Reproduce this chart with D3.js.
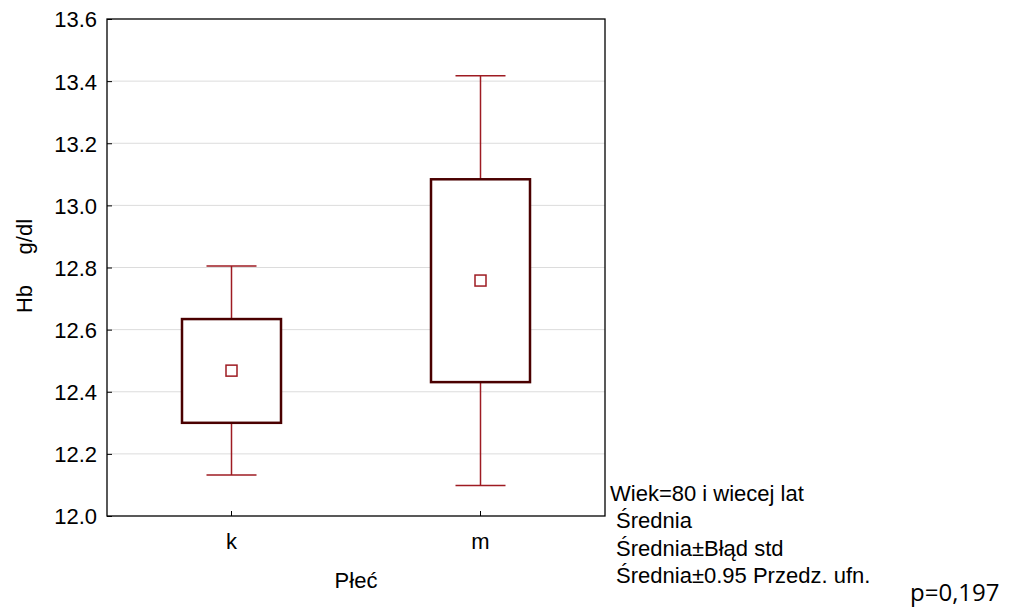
<!DOCTYPE html>
<html>
<head>
<meta charset="utf-8">
<script src="https://cdn.jsdelivr.net/npm/d3@7"></script>
<style>
  html, body { margin: 0; padding: 0; background: #fff; }
  svg { display: block; }
  text { font-family: "Liberation Sans", Arial, sans-serif; fill: #000; }
</style>
</head>
<body>
<svg id="chart" width="1021" height="612"></svg>
<script>
// Hb by sex, age group 80+: mean, ±standard error, ±0.95 confidence interval
const groups = ["k", "m"];
const means = [12.468, 12.758];
const seLow = [12.300, 12.431];
const seHigh = [12.634, 13.084];
const ciLow = [12.132, 12.098];
const ciHigh = [12.805, 13.417];
const yTicks = [12.0, 12.2, 12.4, 12.6, 12.8, 13.0, 13.2, 13.4, 13.6];
const legendLines = ["Wiek=80 i wiecej lat", " Średnia", " Średnia±Błąd std", " Średnia±0.95 Przedz. ufn."];
const pText = "p=0,197";

const svg = d3.select("#chart");
const m = { left: 107, top: 19, right: 605, bottom: 516 };
const fs = 22;

const y = d3.scaleLinear().domain([12.0, 13.6]).range([m.bottom, m.top]);
const x = d3.scaleBand().domain(groups).range([m.left, m.right]).paddingInner(0).paddingOuter(0);

// gridlines
svg.append("g")
  .selectAll("line")
  .data(yTicks.slice(1, -1))
  .join("line")
  .attr("x1", m.left).attr("x2", m.right)
  .attr("y1", d => y(d)).attr("y2", d => y(d))
  .attr("stroke", "#dcdcdc").attr("stroke-width", 1);

// y axis with inward ticks
const yAxis = svg.append("g")
  .attr("transform", `translate(${m.left},0)`)
  .call(d3.axisLeft(y).tickValues(yTicks).tickFormat(d3.format(".1f")).tickSizeInner(-5).tickSizeOuter(0).tickPadding(10));
yAxis.select(".domain").remove();
yAxis.selectAll("line").attr("stroke", "#000");
yAxis.selectAll("text").attr("font-size", fs).attr("dy", "0.36em");

// x axis with inward ticks
const xAxis = svg.append("g")
  .attr("transform", `translate(0,${m.bottom})`)
  .call(d3.axisBottom(x).tickSizeInner(-5).tickSizeOuter(0).tickPadding(17));
xAxis.select(".domain").remove();
xAxis.selectAll("line").attr("stroke", "#000");
xAxis.selectAll("text").attr("font-size", fs);

// frame
svg.append("rect")
  .attr("x", m.left).attr("y", m.top)
  .attr("width", m.right - m.left).attr("height", m.bottom - m.top)
  .attr("fill", "none").attr("stroke", "#000").attr("stroke-width", 1.3);

const boxW = 99, capW = 50, markS = 11;
const whisk = "#9e1b22", boxC = "#4a0000";

const g = svg.append("g").selectAll("g").data(groups).join("g");
const cx = (d) => x(d) + x.bandwidth() / 2;

g.each(function(d, i) {
  const s = d3.select(this);
  const c = cx(d);
  // whiskers
  s.append("line").attr("x1", c).attr("x2", c).attr("y1", y(ciHigh[i])).attr("y2", y(seHigh[i]))
    .attr("stroke", whisk).attr("stroke-width", 1.5);
  s.append("line").attr("x1", c).attr("x2", c).attr("y1", y(seLow[i])).attr("y2", y(ciLow[i]))
    .attr("stroke", whisk).attr("stroke-width", 1.5);
  s.append("line").attr("x1", c - capW / 2).attr("x2", c + capW / 2).attr("y1", y(ciHigh[i])).attr("y2", y(ciHigh[i]))
    .attr("stroke", whisk).attr("stroke-width", 1.5);
  s.append("line").attr("x1", c - capW / 2).attr("x2", c + capW / 2).attr("y1", y(ciLow[i])).attr("y2", y(ciLow[i]))
    .attr("stroke", whisk).attr("stroke-width", 1.5);
  // standard error box
  s.append("rect").attr("x", c - boxW / 2).attr("y", y(seHigh[i]))
    .attr("width", boxW).attr("height", y(seLow[i]) - y(seHigh[i]))
    .attr("fill", "#fff").attr("stroke", boxC).attr("stroke-width", 2.5);
  // mean marker
  s.append("rect").attr("x", c - markS / 2).attr("y", y(means[i]) - markS / 2)
    .attr("width", markS).attr("height", markS)
    .attr("fill", "#fff").attr("stroke", whisk).attr("stroke-width", 1.5);
});

// axis titles
svg.append("text")
  .attr("x", (m.left + m.right) / 2).attr("y", 588)
  .attr("text-anchor", "middle").attr("font-size", fs).text("Płeć");
svg.append("text")
  .attr("transform", "translate(32,266) rotate(-90)")
  .attr("text-anchor", "middle").attr("font-size", fs)
  .style("white-space", "pre")
  .text("Hb     g/dl");

// legend
svg.append("g").selectAll("text").data(legendLines).join("text")
  .attr("x", 610).attr("y", (d, i) => 501 + i * 27.3)
  .attr("font-size", fs)
  .style("white-space", "pre")
  .text(d => d);

svg.append("text")
  .attr("x", 910).attr("y", 601)
  .style("font-family", "'Open Sans', 'Noto Sans', sans-serif")
  .attr("font-size", 24).text(pText);
</script>
</body>
</html>
